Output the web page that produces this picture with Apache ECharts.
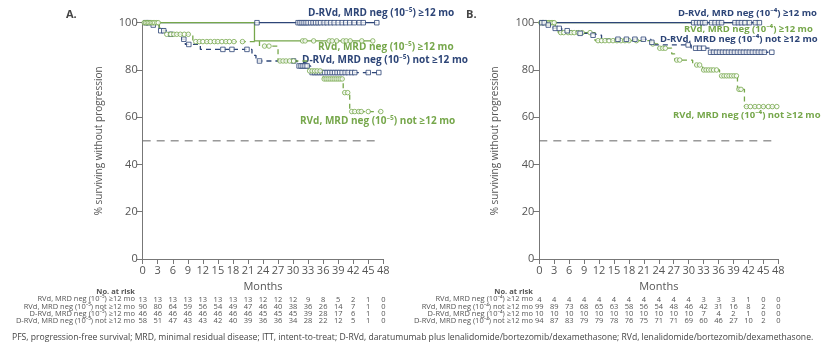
<!DOCTYPE html>
<html>
<head>
<meta charset="utf-8">
<script src="https://cdn.jsdelivr.net/npm/echarts@6/dist/echarts.min.js"></script>
<style>
  html, body { margin: 0; padding: 0; background: #fff; }
  #chart { width: 821px; height: 344px; }
</style>
</head>
<body>
<div id="chart"></div>
<script>
// x ticks (months)
const months = [0, 3, 6, 9, 12, 15, 18, 21, 24, 27, 30, 33, 36, 39, 42, 45, 48];

// ---- Panel A: MRD 10^-5 ----  step points [month, % surviving], censor times
const aDrvdHi = [[0, 100], [46.7, 100]];
const aDrvdHiCens = [22.8, 31.0, 31.4, 31.8, 32.2, 32.6, 33.0, 33.5, 34.0, 34.5, 35.0, 35.5, 36.2, 36.8, 37.5, 38.2, 39.0, 39.8, 40.5, 41.3, 42.2, 43.2, 44.0, 46.7];
const aRvdHi = [[0, 100], [22.3, 92.3], [45.9, 92.3]];
const aRvdHiCens = [31.9, 32.4, 34.1, 37.2, 37.8, 38.7, 40.0, 40.6, 41.4, 43.7, 45.9];
const aDrvdLo = [[0, 100], [1.8, 99.0], [3.3, 96.6], [5.0, 95.1], [7.8, 93.0], [8.5, 90.8], [11.5, 88.7], [21.8, 86.2], [22.6, 83.8], [30.8, 81.7], [33.5, 78.9], [47.1, 78.9]];
const aDrvdLoCens = [0.6, 1.1, 2.1, 3.6, 4.2, 5.6, 8.2, 9.2, 16.0, 17.8, 20.8, 23.3, 30.1, 31.2, 31.6, 32.0, 32.4, 32.8, 33.8, 34.3, 34.8, 35.3, 35.8, 36.3, 36.8, 37.3, 37.8, 38.3, 38.8, 39.3, 39.8, 40.4, 41.0, 41.7, 42.3, 45.0, 47.1];
const aRvdLo = [[0, 100], [3.3, 97.8], [4.3, 95.1], [10.0, 92.0], [23.3, 90.1], [27.0, 83.8], [33.0, 79.6], [36.0, 76.2], [40.0, 70.4], [41.3, 62.4], [47.5, 62.4]];
const aRvdLoCens = [0.3, 0.6, 0.9, 1.2, 1.5, 1.8, 2.1, 2.4, 2.8, 3.1, 4.8, 5.6, 6.2, 6.8, 7.5, 8.3, 9.1, 10.6, 11.3, 12.0, 12.8, 13.5, 14.3, 15.0, 15.8, 16.6, 17.3, 18.2, 19.9, 24.3, 25.2, 27.4, 28.0, 28.6, 29.3, 30.1, 33.3, 33.8, 34.3, 34.8, 35.4, 36.2, 36.6, 37.0, 37.4, 37.8, 38.2, 38.6, 39.0, 39.4, 39.8, 40.3, 40.9, 41.7, 42.3, 43.1, 43.6, 45.0, 47.5];

// ---- Panel B: MRD 10^-4 ----
const bDrvdHi = [[0, 100], [44.2, 100]];
const bDrvdHiCens = [31.0, 31.6, 32.2, 32.8, 33.3, 34.6, 35.3, 36.0, 36.6, 39.3, 40.0, 40.6, 41.3, 42.2, 43.4, 44.2];
const bRvdHi = [[0, 100], [43.8, 100]];
const bRvdHiCens = [32.5, 41.2, 41.8, 43.8];
const bDrvdLo = [[0, 100], [1.5, 99.0], [2.8, 97.6], [4.5, 96.6], [7.5, 95.5], [10.0, 94.7], [12.5, 93.0], [22.4, 91.7], [23.2, 90.6], [30.5, 89.2], [34.2, 87.5], [46.7, 87.5]];
const bDrvdLoCens = [0.5, 1.0, 1.8, 3.2, 4.0, 5.6, 8.2, 10.8, 15.8, 17.5, 19.2, 20.9, 22.6, 29.9, 31.4, 32.2, 33.0, 34.4, 35.0, 35.6, 36.2, 36.8, 37.4, 38.0, 38.6, 39.2, 39.8, 40.4, 41.0, 41.6, 42.2, 42.8, 43.4, 44.0, 44.6, 45.2, 46.7];
const bRvdLo = [[0, 100], [3.2, 97.8], [3.8, 95.8], [11.2, 92.4], [22.5, 91.0], [23.8, 89.2], [26.6, 86.8], [27.2, 84.2], [30.8, 82.1], [32.8, 80.0], [36.2, 77.5], [39.8, 71.8], [41.2, 64.5], [47.7, 64.5]];
const bRvdLoCens = [0.3, 0.6, 0.9, 1.2, 1.5, 1.8, 2.1, 2.4, 2.7, 3.0, 4.3, 4.9, 5.8, 6.4, 7.0, 7.8, 8.6, 10.2, 11.8, 12.5, 13.2, 14.0, 14.8, 15.6, 16.4, 17.2, 18.0, 19.5, 22.8, 24.2, 24.8, 25.3, 27.6, 28.2, 31.6, 32.2, 33.0, 33.5, 34.0, 34.5, 35.0, 35.6, 36.6, 37.1, 37.6, 38.1, 38.6, 39.1, 39.6, 40.1, 40.5, 41.6, 42.4, 43.3, 44.1, 45.0, 46.0, 46.8, 47.7];

// reference line at 50%
const refLineX = [0, 47];
const refLineY = 50;

// numbers at risk
const riskLabelsA = ['RVd, MRD neg (10⁻⁵) ≥12 mo', 'RVd, MRD neg (10⁻⁵) not ≥12 mo', 'D-RVd, MRD neg (10⁻⁵) ≥12 mo', 'D-RVd, MRD neg (10⁻⁵) not ≥12 mo'];
const riskLabelsB = ['RVd, MRD neg (10⁻⁴) ≥12 mo', 'RVd, MRD neg (10⁻⁴) not ≥12 mo', 'D-RVd, MRD neg (10⁻⁴) ≥12 mo', 'D-RVd, MRD neg (10⁻⁴) not ≥12 mo'];
const riskA1 = [13, 13, 13, 13, 13, 13, 13, 13, 12, 12, 12, 9, 8, 5, 2, 1, 0];
const riskA2 = [90, 80, 64, 59, 56, 54, 49, 47, 46, 40, 38, 36, 26, 14, 7, 1, 0];
const riskA3 = [46, 46, 46, 46, 46, 46, 46, 46, 45, 45, 45, 39, 28, 17, 6, 1, 0];
const riskA4 = [58, 51, 47, 43, 43, 42, 40, 39, 36, 36, 34, 28, 22, 12, 5, 1, 0];
const riskB1 = [4, 4, 4, 4, 4, 4, 4, 4, 4, 4, 4, 3, 3, 3, 1, 0, 0];
const riskB2 = [99, 89, 73, 68, 65, 63, 58, 56, 54, 48, 46, 42, 31, 16, 8, 2, 0];
const riskB3 = [10, 10, 10, 10, 10, 10, 10, 10, 10, 10, 10, 7, 4, 2, 1, 0, 0];
const riskB4 = [94, 87, 83, 79, 79, 78, 76, 75, 71, 71, 69, 60, 46, 27, 10, 2, 0];

const NAVY = '#2d4577';
const GREEN = '#76a74b';
const TXT = '#555';
const FONT = '"Open Sans", "Noto Sans", sans-serif';

const chart = echarts.init(document.getElementById('chart'));

function survAt(steps, t) {
  let s = steps[0][1];
  steps.forEach(([tt, v]) => { if (tt <= t) s = v; });
  return s;
}

function km(name, steps, cens, color, dashed, symbol, idx) {
  return [
    {
      name, type: 'line', step: 'end', xAxisIndex: idx * 5, yAxisIndex: idx,
      data: steps, showSymbol: false, silent: true, z: 3,
      lineStyle: { color, width: 1.3, type: dashed ? [5, 4] : 'solid' }
    },
    {
      name: name + ' censored', type: 'scatter', xAxisIndex: idx * 5, yAxisIndex: idx,
      data: cens.map(t => [t, survAt(steps, t)]),
      symbol, symbolSize: symbol === 'rect' ? [4.5, 4.5] : 4.5, silent: true, z: 4,
      itemStyle: { color: '#fff', borderColor: color, borderWidth: 1 }
    }
  ];
}

function refSeries(idx) {
  return {
    type: 'line', xAxisIndex: idx * 5, yAxisIndex: idx, silent: true, showSymbol: false,
    data: refLineX.map(x => [x, refLineY]),
    lineStyle: { color: '#666', width: 1, type: [8, 6] }
  };
}

const grids = [
  { left: 142.7, top: 22.7, width: 240.6, height: 236.3 },
  { left: 539.3, top: 22.7, width: 239, height: 236.3 }
];

const riskRows = [[riskA1, riskA2, riskA3, riskA4], [riskB1, riskB2, riskB3, riskB4]];
const riskOffsets = [36.5, 43.8, 51, 58.2];

const xAxis = [];
[0, 1].forEach(g => {
  xAxis.push({
    type: 'value', gridIndex: g, min: 0, max: 48, interval: 3,
    name: 'Months', nameLocation: 'middle', nameGap: 15.5,
    nameTextStyle: { fontFamily: FONT, fontSize: 11, color: TXT },
    axisLine: { lineStyle: { color: '#777', width: 1 } },
    axisTick: { length: 5, lineStyle: { color: '#777' } },
    axisLabel: { fontFamily: FONT, fontSize: 11, color: TXT, margin: 6 },
    splitLine: { show: false }
  });
  riskRows[g].forEach((row, r) => {
    xAxis.push({
      type: 'value', gridIndex: g, min: 0, max: 48, interval: 3, position: 'bottom',
      offset: riskOffsets[r],
      axisLine: { show: false }, axisTick: { show: false }, splitLine: { show: false },
      axisLabel: {
        fontFamily: FONT, fontSize: 7.5, color: TXT, margin: 0,
        formatter: v => String(row[Math.round(v / 3)])
      }
    });
  });
});

const yAxis = [0, 1].map(g => ({
  type: 'value', gridIndex: g, min: 0, max: 100, interval: 20,
  name: '% surviving without progression', nameLocation: 'middle', nameGap: 39,
  nameTextStyle: { fontFamily: FONT, fontSize: 10, color: TXT },
  axisLine: { show: true, lineStyle: { color: '#777', width: 1 } },
  axisTick: { show: true, length: 6, lineStyle: { color: '#777' } },
  axisLabel: { fontFamily: FONT, fontSize: 11, color: TXT, margin: 5 },
  splitLine: { show: false }
}));

const series = [
  ...km('D-RVd, MRD neg (10⁻⁵) ≥12 mo', aDrvdHi, aDrvdHiCens, NAVY, false, 'rect', 0),
  ...km('RVd, MRD neg (10⁻⁵) ≥12 mo', aRvdHi, aRvdHiCens, GREEN, false, 'circle', 0),
  ...km('D-RVd, MRD neg (10⁻⁵) not ≥12 mo', aDrvdLo, aDrvdLoCens, NAVY, true, 'rect', 0),
  ...km('RVd, MRD neg (10⁻⁵) not ≥12 mo', aRvdLo, aRvdLoCens, GREEN, true, 'circle', 0),
  refSeries(0),
  ...km('RVd, MRD neg (10⁻⁴) not ≥12 mo', bRvdLo, bRvdLoCens, GREEN, true, 'circle', 1),
  ...km('D-RVd, MRD neg (10⁻⁴) not ≥12 mo', bDrvdLo, bDrvdLoCens, NAVY, true, 'rect', 1),
  ...km('RVd, MRD neg (10⁻⁴) ≥12 mo', bRvdHi, bRvdHiCens, GREEN, false, 'circle', 1),
  ...km('D-RVd, MRD neg (10⁻⁴) ≥12 mo', bDrvdHi, bDrvdHiCens, NAVY, false, 'rect', 1),
  refSeries(1)
];

function txt(x, y, text, opts) {
  return {
    type: 'text', x, y, silent: true,
    style: Object.assign({
      text, fontFamily: FONT, fontSize: 10, fill: TXT,
      align: 'left', verticalAlign: 'middle'
    }, opts || {})
  };
}

const bold = (c, s) => ({ fontWeight: 'bold', fill: c, fontSize: s || 10 });

const graphic = [
  txt(66, 15, 'A.', { fontWeight: 'bold', fontSize: 11, fill: '#444' }),
  txt(466, 15, 'B.', { fontWeight: 'bold', fontSize: 11, fill: '#444' }),
  // curve labels A
  txt(308, 13, 'D-RVd, MRD neg (10⁻⁵) ≥12 mo', bold(NAVY)),
  txt(318, 47.5, 'RVd, MRD neg (10⁻⁵) ≥12 mo', bold(GREEN)),
  txt(302, 60, 'D-RVd, MRD neg (10⁻⁵) not ≥12 mo', bold(NAVY)),
  txt(300, 121, 'RVd, MRD neg (10⁻⁵) not ≥12 mo', bold(GREEN)),
  // curve labels B
  txt(678, 13, 'D-RVd, MRD neg (10⁻⁴) ≥12 mo', bold(NAVY, 9.5)),
  txt(684, 29, 'RVd, MRD neg (10⁻⁴) ≥12 mo', bold(GREEN, 9.5)),
  txt(660, 39, 'D-RVd, MRD neg (10⁻⁴) not ≥12 mo', bold(NAVY, 9.5)),
  txt(673, 115, 'RVd, MRD neg (10⁻⁴) not ≥12 mo', bold(GREEN, 9.5)),
  // at-risk headers
  txt(135, 291.5, 'No. at risk', { align: 'right', fontSize: 7.5, fontWeight: 'bold', fill: TXT }),
  txt(533, 291.5, 'No. at risk', { align: 'right', fontSize: 7.5, fontWeight: 'bold', fill: TXT }),
  // footnote
  txt(12, 338, 'PFS, progression-free survival; MRD, minimal residual disease; ITT, intent-to-treat; D-RVd, daratumumab plus lenalidomide/bortezomib/dexamethasone; RVd, lenalidomide/bortezomib/dexamethasone.', { fontSize: 8.6, fill: '#444' })
];
const rowY = [299.3, 306.7, 313.7, 320.7];
riskLabelsA.forEach((l, i) => graphic.push(txt(135, rowY[i], l, { align: 'right', fontSize: 7.5 })));
riskLabelsB.forEach((l, i) => graphic.push(txt(533, rowY[i], l, { align: 'right', fontSize: 7.5 })));

chart.setOption({
  animation: false,
  backgroundColor: '#fff',
  grid: grids,
  xAxis,
  yAxis,
  series,
  graphic
});

window.addEventListener('resize', () => chart.resize());
</script>
</body>
</html>
